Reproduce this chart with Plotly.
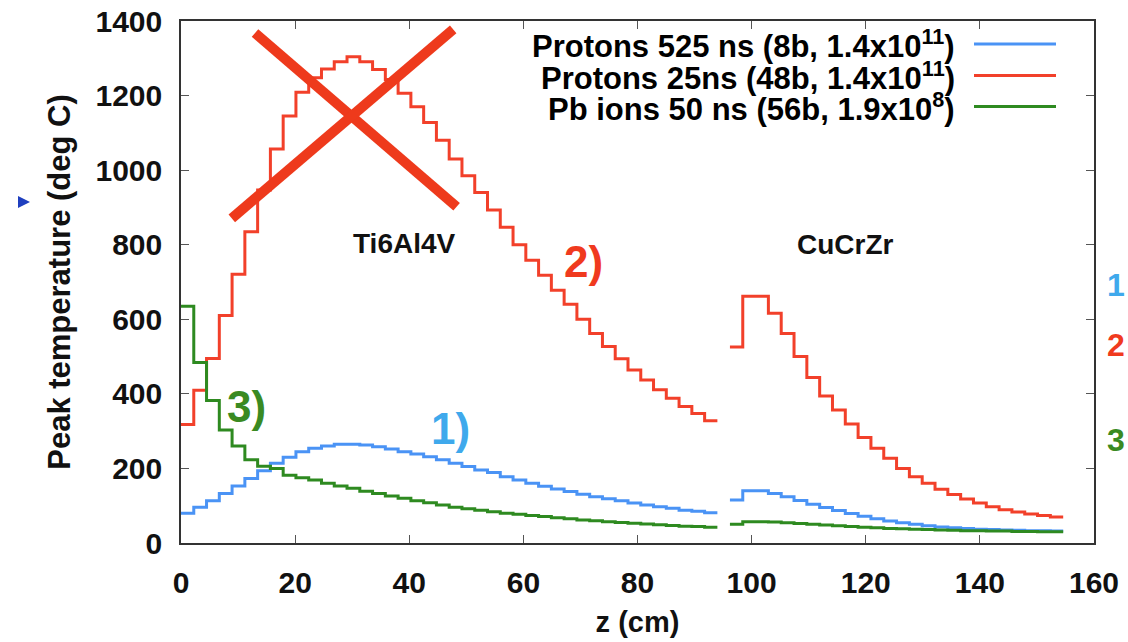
import numpy as np
import plotly.graph_objects as go

# ---- data ----
# two material sections, histogram-like bins
sec1_start, sec1_end, sec1_bins = 0.0, 94.0, 42      # Ti6Al4V
sec2_start, sec2_end, sec2_bins = 96.2, 154.6, 26    # CuCrZr

red_sec1 = [318, 410, 495, 610, 721, 835, 947, 1057, 1145, 1209, 1248, 1271, 1291, 1304,
            1291, 1270, 1243, 1206, 1170, 1128, 1080, 1030, 985, 940, 893, 847, 800, 758,
            718, 678, 640, 600, 562, 527, 494, 464, 437, 411, 388, 366, 347, 328]
blue_sec1 = [80, 96, 113, 133, 153, 173, 194, 214, 230, 245, 254, 260, 265, 265, 263, 258,
             252, 245, 239, 231, 223, 214, 205, 196, 189, 178, 169, 160, 152, 145, 138, 131,
             124, 119, 113, 107, 102, 97, 93, 88, 85, 81]
green_sec1 = [635, 484, 382, 303, 260, 223, 206, 200, 182, 175, 169, 160, 153, 147, 139, 133,
              126, 120, 113, 108, 102, 96, 92, 88, 84, 80, 77, 74, 71, 68, 65, 62, 60, 57, 55,
              53, 51, 49, 47, 45, 44, 42]

red_sec2 = [526, 662, 662, 616, 562, 500, 444, 394, 357, 319, 283, 254, 227, 200, 178, 160,
            144, 130, 118, 107, 97, 89, 83, 78, 74, 70]
blue_sec2 = [115, 140, 140, 133, 124, 114, 104, 95, 87, 79, 72, 65, 59, 54, 50, 46, 43, 41,
             39, 37, 36, 35, 34, 33, 33, 32]
green_sec2 = [50, 57, 57, 56, 54, 52, 50, 48, 46, 44, 42, 41, 39, 38, 37, 36, 35, 34, 33, 33,
              32, 32, 31, 31, 30, 30]

series_names = [
    "Protons 525 ns (8b, 1.4x10<sup>11</sup>)",
    "Protons 25ns (48b, 1.4x10<sup>11</sup>)",
    "Pb ions 50 ns (56b, 1.9x10<sup>8</sup>)",
]
x_ticks = list(range(0, 161, 20))
y_ticks = list(range(0, 1401, 200))

# ---- styling ----
RED = "#F2402A"
BLUE = "#4A93F5"
GREEN = "#2E8A20"
FONT = "Liberation Sans, Arial, Helvetica, sans-serif"

edges1 = list(np.linspace(sec1_start, sec1_end, sec1_bins + 1))
edges2 = list(np.linspace(sec2_start, sec2_end, sec2_bins + 1))


def step_xy(v1, v2):
    x = edges1 + [None] + edges2
    y = list(v1) + [v1[-1]] + [None] + list(v2) + [v2[-1]]
    return x, y


fig = go.Figure()
for name, v1, v2, col in [
    (series_names[0], blue_sec1, blue_sec2, BLUE),
    (series_names[1], red_sec1, red_sec2, RED),
    (series_names[2], green_sec1, green_sec2, GREEN),
]:
    x, y = step_xy(v1, v2)
    fig.add_trace(go.Scatter(x=x, y=y, mode="lines", name=name,
                             line=dict(color=col, width=3, shape="hv"),
                             connectgaps=False, showlegend=False,
                             hoverinfo="x+y"))

# plot area geometry in pixels (for paper-based placement)
L, R, T, B = 181, 1094, 21, 543
W, H = R - L, B - T


def px(xp):
    return (xp - L) / W


def py(yp):
    return (B - yp) / H


annotations = []
shapes = []

# gnuplot-like legend: text right-aligned, sample line to the right
leg_rows = [44, 75.5, 106.5]
for name, col, yr in zip(series_names, [BLUE, RED, GREEN], leg_rows):
    annotations.append(dict(xref="paper", yref="paper", x=px(957), y=py(yr),
                            xanchor="right", yanchor="middle", showarrow=False,
                            text=name, font=dict(family=FONT, size=31, color="black",
                                                 weight="bold")))
    shapes.append(dict(type="line", xref="paper", yref="paper",
                       x0=px(974), x1=px(1056), y0=py(yr), y1=py(yr),
                       line=dict(color=col, width=3)))

# material labels
for txt, zx, vy in [("Ti6Al4V", 39.1, 802), ("CuCrZr", 116.5, 800)]:
    annotations.append(dict(x=zx, y=vy, text=txt, showarrow=False,
                            font=dict(family=FONT, size=28, color="#111111",
                                      weight="bold")))

# series number labels
for txt, zx, vy, col in [("1)", 47.3, 306, "#3FA9EC"), ("2)", 70.5, 754, "#F03A1E"),
                         ("3)", 11.5, 365, "#3A8A22")]:
    annotations.append(dict(x=zx, y=vy, text=txt, showarrow=False,
                            font=dict(family=FONT, size=44, color=col, weight="bold")))

# labels at the right edge of the slide
for txt, yp, col in [("1", 285, "#3FA9EC"), ("2", 345, "#F03A1E"), ("3", 440, "#3A8A22")]:
    annotations.append(dict(xref="paper", yref="paper", x=px(1127), y=py(yp),
                            xanchor="right", yanchor="middle", showarrow=False,
                            text=txt, font=dict(family=FONT, size=32, color=col,
                                                weight="bold")))

# big red cross over the 25 ns peak
cross = [((12.97, 1367.6), (48.3, 901.9)), ((8.9, 870.7), (47.7, 1377.6))]
for (x0, y0), (x1, y1) in cross:
    shapes.append(dict(type="line", xref="x", yref="y", x0=x0, y0=y0, x1=x1, y1=y1,
                       line=dict(color="#EE3A1C", width=10)))

# small blue pointer triangle at far left
shapes.append(dict(type="path", xref="paper", yref="paper",
                   path=f"M {px(18)} {py(196)} L {px(18)} {py(208)} L {px(30)} {py(202)} Z",
                   fillcolor="#1F3FBF", line=dict(width=0)))

axis_common = dict(showgrid=False, zeroline=False, showline=True, mirror="ticks",
                   linecolor="#333333", linewidth=1.5, ticks="inside", ticklen=8,
                   tickwidth=1, tickcolor="#555555", automargin=False,
                   tickfont=dict(family=FONT, size=30, color="#111111", weight="bold"))

fig.update_layout(
    template="none",
    width=1128, height=642,
    margin=dict(l=L, r=1128 - R, t=T, b=642 - B, autoexpand=False),
    paper_bgcolor="white", plot_bgcolor="white",
    annotations=annotations, shapes=shapes,
    xaxis=dict(range=[0, 160], tickvals=x_ticks, ticklabelstandoff=12,
               title=dict(text="z (cm)", standoff=14,
                          font=dict(family=FONT, size=29, color="#111111", weight="bold")),
               **axis_common),
    yaxis=dict(range=[0, 1400], tickvals=y_ticks, ticklabelstandoff=11,
               title=dict(text="Peak temperature (deg C)", standoff=16,
                          font=dict(family=FONT, size=31, color="#111111", weight="bold")),
               **axis_common),
)

fig.write_html("out.html",
               config={"displayModeBar": False},
               post_script="document.body.style.margin='0px';"
                           "document.body.style.overflow='hidden';")
